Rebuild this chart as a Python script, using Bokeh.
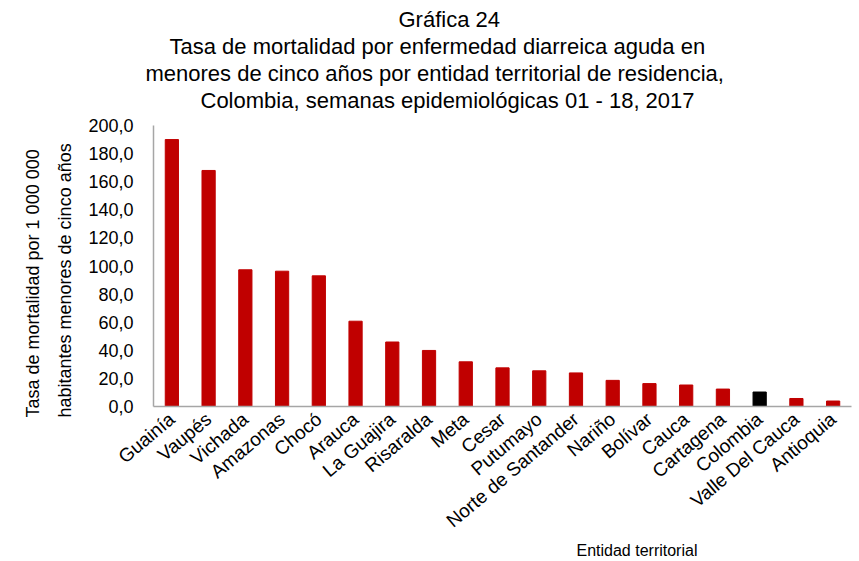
from bokeh.plotting import figure
from bokeh.models import ColumnDataSource, FixedTicker, CustomJSTickFormatter, Title, Range1d
from bokeh.embed import file_html
from bokeh.resources import INLINE
import math

entidades = ["Guainía", "Vaupés", "Vichada", "Amazonas", "Chocó", "Arauca", "La Guajira",
             "Risaralda", "Meta", "Cesar", "Putumayo", "Norte de Santander", "Nariño",
             "Bolívar", "Cauca", "Cartagena", "Colombia", "Valle Del Cauca", "Antioquia"]
tasas = [190.0, 168.0, 97.3, 96.3, 93.0, 60.7, 45.9, 39.9, 31.8, 27.5, 25.4, 23.9, 18.6,
         16.3, 15.3, 12.4, 10.3, 5.7, 3.9]
colores = ["#C00000" if e != "Colombia" else "#000000" for e in entidades]
y_ticks = [0, 20, 40, 60, 80, 100, 120, 140, 160, 180, 200]

title_lines = ["Gráfica 24",
               "Tasa de mortalidad por enfermedad diarreica aguda en",
               "menores de cinco años por entidad territorial de residencia,",
               "Colombia, semanas epidemiológicas 01 - 18, 2017"]
y_label_lines = ["Tasa de mortalidad por 1 000 000", "habitantes menores de cinco años"]
x_label = "Entidad territorial"

FONT = "Liberation Sans"

src = ColumnDataSource(dict(x=entidades, y=tasas, c=colores))

p = figure(x_range=entidades, y_range=Range1d(0, 200), width=859, height=561,
           output_backend="svg", toolbar_location=None,
           min_border_left=153, min_border_right=8, min_border_top=125, min_border_bottom=155)

p.vbar(x="x", top="y", width=0.36, color="c", source=src)

p.outline_line_color = None
p.xgrid.visible = False
p.ygrid.visible = False

p.yaxis.ticker = FixedTicker(ticks=y_ticks)
p.yaxis.formatter = CustomJSTickFormatter(code="return tick.toFixed(1).replace('.', ',');")
p.yaxis.major_tick_line_color = None
p.yaxis.minor_tick_line_color = None
p.yaxis.axis_line_color = "#A6A6A6"
p.yaxis.axis_line_width = 1.5
p.yaxis.major_label_text_font = FONT
p.yaxis.major_label_text_font_size = "18px"
p.yaxis.major_label_text_color = "#000000"
p.yaxis.major_label_standoff = 14

p.xaxis.major_tick_line_color = None
p.xaxis.minor_tick_line_color = None
p.xaxis.axis_line_color = "#A6A6A6"
p.xaxis.axis_line_width = 1.5
p.xaxis.major_label_orientation = 0.70
p.xaxis.major_label_text_font = FONT
p.xaxis.major_label_text_font_size = "19px"
p.xaxis.major_label_text_color = "#000000"
p.xaxis.major_label_standoff = 4

# Title lines: added bottom-up (the last one added sits on top)
title_offsets = [245, 16, -8, 47]
title_pad_bottom = [0, 0, 0, 13]
for t, off, pb in reversed(list(zip(title_lines, title_offsets, title_pad_bottom))):
    p.add_layout(Title(text=t, align="left", offset=off, standoff=0, padding=(0, 0, 0, pb),
                       text_font=FONT, text_font_size="22px", text_font_style="normal",
                       text_color="#000000"), "above")

# Y axis title (two lines); inner line added first
y_standoffs = [0, 21]
for t, so in reversed(list(zip(y_label_lines, y_standoffs))):
    p.add_layout(Title(text=t, align="left", offset=-11, standoff=so, text_font=FONT,
                       text_font_size="18px", text_font_style="normal",
                       text_color="#000000"), "left")

# X axis title
p.add_layout(Title(text=x_label, align="left", offset=423, standoff=-6, text_font=FONT,
                   text_font_size="16px", text_font_style="normal",
                   text_color="#000000"), "below")

open("out.html", "w").write(file_html(p, INLINE))
